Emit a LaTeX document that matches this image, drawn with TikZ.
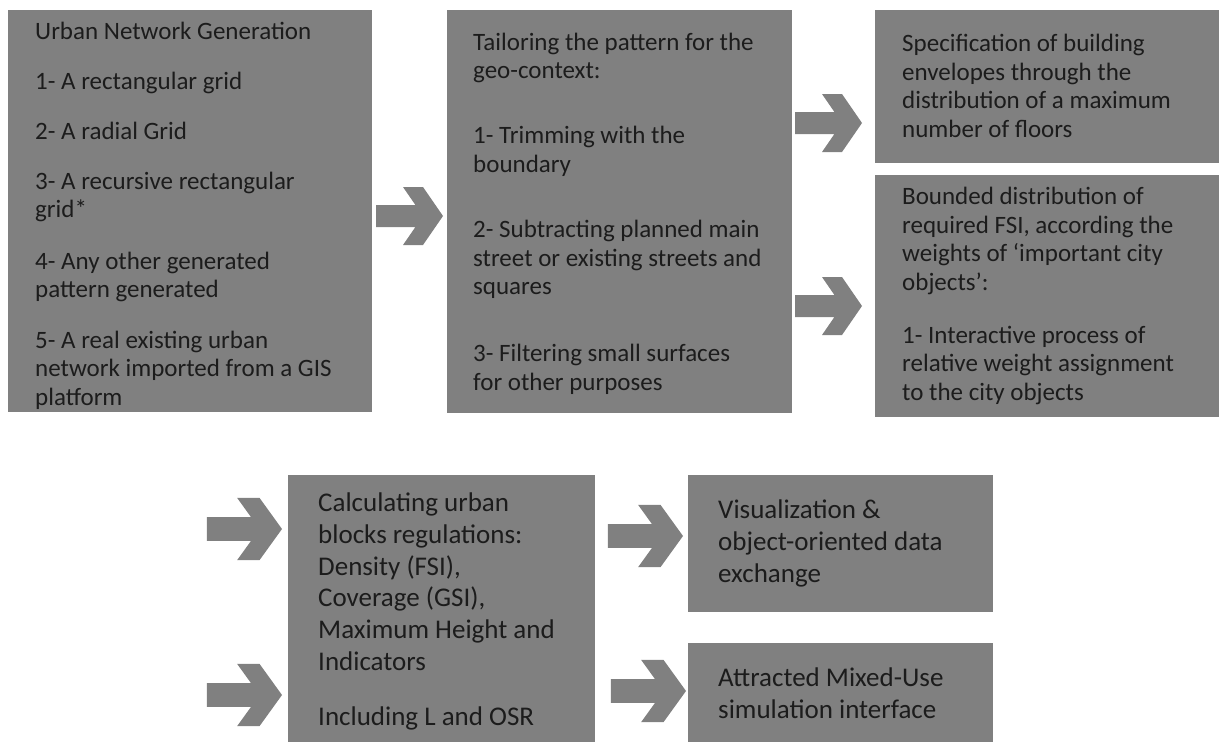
\documentclass[tikz,border=0pt]{standalone}
\usepackage{fontspec}
\setmainfont{Carlito}
\definecolor{boxgray}{RGB}{128,128,128}
\definecolor{txt}{RGB}{28,28,28}
\tikzset{
  box/.style={fill=boxgray, draw=none, inner sep=0pt, outer sep=0pt, anchor=north west},
  toptext/.style={anchor=base west, align=left, inner sep=0pt, text=txt, font=\fontsize{25}{28.5}\selectfont},
  bottext/.style={anchor=base west, align=left, inner sep=0pt, text=txt, font=\fontsize{27}{31.7}\selectfont},
  blockarrow/.pic={\fill[boxgray] (-67,-11) -- (-27.6,-11) -- (-40,-29) -- (-20,-29) -- (0,0) -- (-20,29) -- (-40,29) -- (-27.6,11) -- (-67,11) -- cycle;}
}
\begin{document}
\begin{tikzpicture}[x=1pt,y=-1pt]
\useasboundingbox (0,0) rectangle (1219,742);
% boxes
\node[box, minimum width=364, minimum height=402] (b1) at (8,10) {};
\node[box, minimum width=345, minimum height=403] (b2) at (447,10) {};
\node[box, minimum width=344, minimum height=153] (b3) at (875,10) {};
\node[box, minimum width=344, minimum height=242] (b4) at (875,175) {};
\node[box, minimum width=307, minimum height=267] (b5) at (288,475) {};
\node[box, minimum width=305, minimum height=137] (b6) at (688,475) {};
\node[box, minimum width=305, minimum height=99] (b7) at (688,643) {};
% texts (anchored at the baseline of their last line)
\node[toptext] (t1) at (35,405) {Urban Network Generation\\[21.5pt]
1- A rectangular grid\\[21.5pt]
2- A radial Grid\\[21.5pt]
3- A recursive rectangular\\
grid*\\[23pt]
4- Any other generated\\
pattern generated\\[22pt]
5- A real existing urban\\
network imported from a GIS\\
platform};
\node[toptext] (t2) at (473,390) {Tailoring the pattern for the\\
geo-context:\\[36.5pt]
1- Trimming with the\\
boundary\\[37pt]
2- Subtracting planned main\\
street or existing streets and\\
squares\\[38.5pt]
3- Filtering small surfaces\\
for other purposes};
\node[toptext] (t3) at (902,137) {Specification of building\\
envelopes through the\\
distribution of a maximum\\
number of floors};
\node[toptext] (t4) at (902,400) {Bounded distribution of\\
required FSI, according the\\
weights of ‘important city\\
objects’:\\[24.5pt]
1- Interactive process of\\
relative weight assignment\\
to the city objects};
\node[bottext] (t5) at (318,725) {Calculating urban\\
blocks regulations:\\
Density (FSI),\\
Coverage (GSI),\\
Maximum Height and\\
Indicators\\[23pt]
Including L and OSR};
\node[bottext] (t6) at (718,582) {Visualization \&\\
object-oriented data\\
exchange};
\node[bottext] (t7) at (718,718) {Attracted Mixed-Use\\
simulation interface};
% block arrows
\coordinate (aA) at (443,216);
\coordinate (aB) at (862,123);
\coordinate (aC) at (862,306);
\coordinate (aD) at (282,529);
\coordinate (aE) at (282,695);
\coordinate (aF) at (683,536);
\coordinate (aG) at (686,691);
\pic at (aA) {blockarrow};
\pic at (aB) {blockarrow};
\pic at (aC) {blockarrow};
\pic[xscale=1.12, yscale=1.07] at (aD) {blockarrow};
\pic[xscale=1.12, yscale=1.07] at (aE) {blockarrow};
\pic[xscale=1.12, yscale=1.07] at (aF) {blockarrow};
\pic[xscale=1.12, yscale=1.07] at (aG) {blockarrow};
\end{tikzpicture}
\end{document}
